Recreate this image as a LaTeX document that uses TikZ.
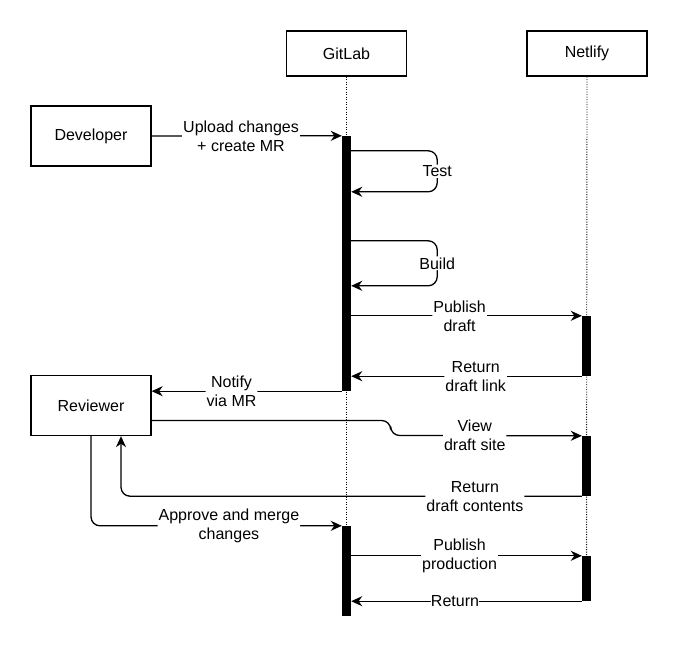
\documentclass[tikz,border=0pt]{standalone}
\usepackage{fontspec}
\setmainfont{Liberation Sans}
\usetikzlibrary{positioning}
\usetikzlibrary{arrows.meta}
\tikzset{
    actor/.style = {rectangle, draw=black, line width=1.3pt, minimum width=120pt, minimum height=60pt},
    party/.style = {rectangle, draw=black, line width=1.3pt, minimum width=120pt, minimum height=45pt},
    bar/.style = {rectangle, fill=black, draw=none, inner sep=0pt, minimum width=9pt},
    life/.style = {line width=0.9pt, dash pattern=on 1pt off 1.5pt},
    edgen/.style = {-{Stealth[length=11pt,width=10pt,inset=3.5pt]}, line width=1.3pt, rounded corners=9pt},
    lbl/.style = {fill=white, inner sep=1pt, align=center},
    font issue/.style={execute at begin picture={#1\selectfont}}
}
\begin{document}
\begin{tikzpicture}[x=1pt,y=-1pt,font issue={\fontsize{16}{19}}]
\path[use as bounding box] (0,0) rectangle (677,647);
%
\node[party] at (346.5,53.5) (gitlab) {GitLab};
\node[party] at (587,53.5) (netlify) {Netlify};
\node[actor] at (91,136) (dev) {Developer};
\node[actor] at (91,405.5) (rev) {Reviewer};
%
\draw[life] (gitlab.south) -- (346.5,616);
\draw[life] (netlify.south) -- (586.5,601);
%
\node[bar,minimum height=255pt] at (346.5,263.5) (g1) {};
\node[bar,minimum height=90pt] at (346.5,571) (g2) {};
\node[bar,minimum height=60pt] at (586.5,346) (n1) {};
\node[bar,minimum height=60pt] at (586.5,466) (n2) {};
\node[bar,minimum height=45pt] at (586.5,578.5) (n3) {};
%
\draw[edgen] (dev.east) -- node[lbl,pos=0.47] {Upload changes\\+ create MR} (g1.north west);
\draw[edgen] ([yshift=-15pt]g1.north east) -- ++(86,0) -- node[lbl] {Test} ++(0,41) -- ([yshift=-56pt]g1.north east);
\draw[edgen] ([yshift=-105pt]g1.north east) -- ++(86,0) -- node[lbl] {Build} ++(0,45) -- ([yshift=-150pt]g1.north east);
\draw[edgen] (n1.north west -| g1.east) -- node[lbl,pos=0.47] {Publish\\draft} (n1.north west);
\draw[edgen] (n1.south west) -- node[lbl,pos=0.46] {Return\\draft link} (n1.south west -| g1.east);
\draw[edgen] (g1.south west) -- node[lbl,pos=0.58] {Notify\\via MR} (g1.south west -| rev.east);
\draw[edgen] ([yshift=-15pt]rev.east) -- ++(239,0) -- ++(0,15) -- node[lbl,pos=0.44] {View\\draft site} (n2.north west);
\draw[edgen] (n2.south west) -| node[lbl,pos=0.116] {Return\\draft contents} ([xshift=30pt]rev.south);
\draw[edgen] (rev.south) |- node[lbl,pos=0.775] {Approve and merge\\changes} (g2.north west);
\draw[edgen] (n3.north west -| g2.east) -- node[lbl,pos=0.47] {Publish\\production} (n3.north west);
\draw[edgen] (n3.south west) -- node[lbl,pos=0.55,inner sep=0pt] {Return} (n3.south west -| g2.east);
\end{tikzpicture}
\end{document}
